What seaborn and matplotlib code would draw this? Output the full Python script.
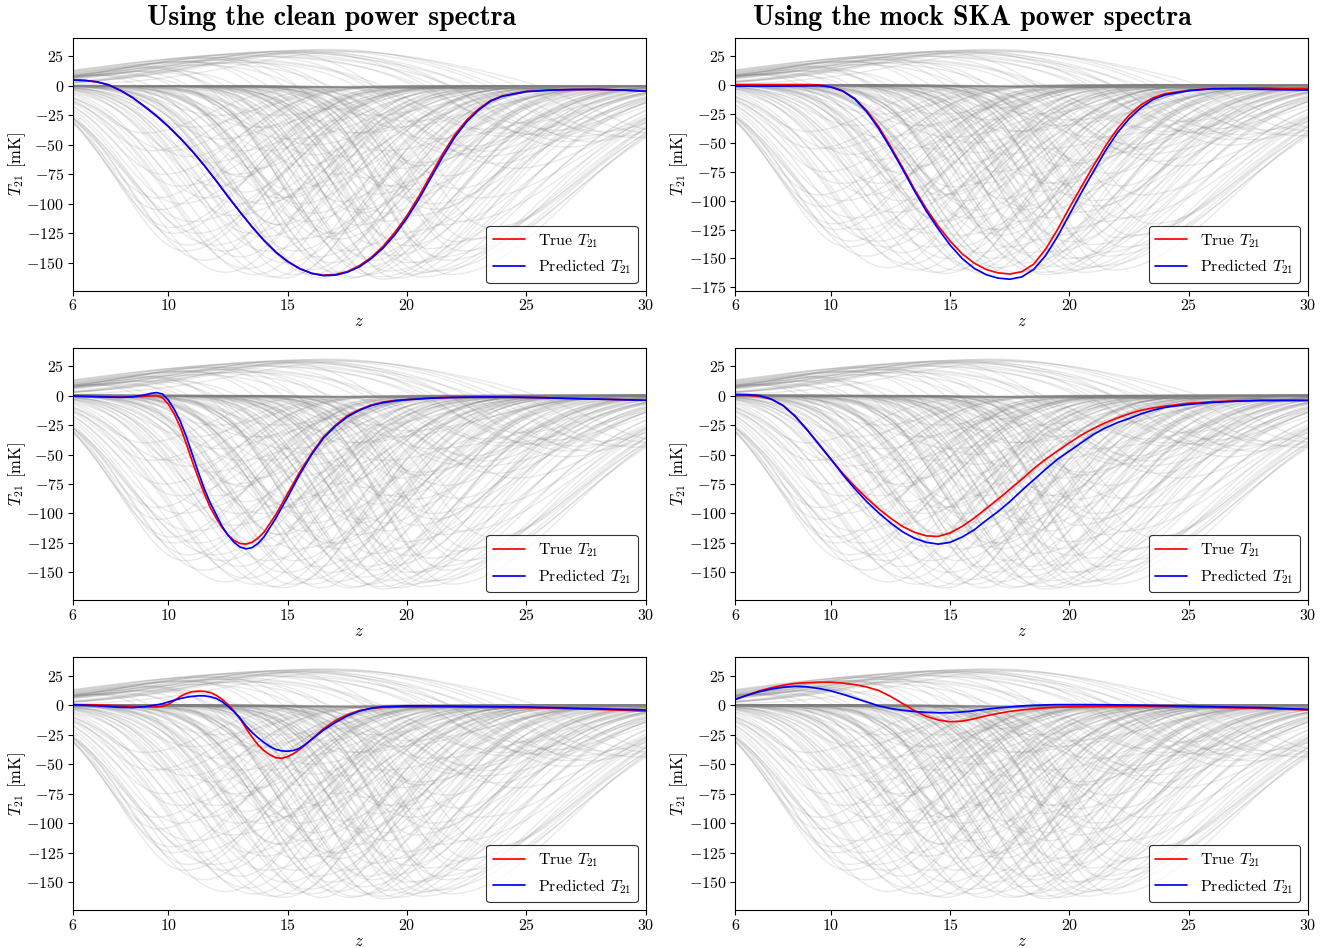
import numpy as np
import pandas as pd
import matplotlib
matplotlib.use("Agg")
import matplotlib.pyplot as plt
from matplotlib.ticker import MultipleLocator
import seaborn as sns

# ---------------- data ----------------
# background training-set signals: absorption troughs (centre z, depth mK, low-z width, high-z width)
abs_zc = [9.3, 9.6, 10.2, 10.4, 10.8, 10.8, 11.0, 11.5, 11.6, 11.9, 12.1, 12.4, 12.6, 12.8,
          13.0, 13.2, 13.4, 13.6, 13.9, 14.1, 14.2, 14.4, 14.7, 14.9, 15.1, 15.2, 15.4, 15.6,
          15.9, 16.1, 16.2, 16.4, 16.6, 16.7, 16.9,
          17.0, 17.2, 17.4, 17.6, 17.9, 18.1, 18.2, 18.4, 18.6, 18.9, 19.1, 19.2, 19.4, 19.6,
          19.9, 20.1, 20.2, 20.4, 20.6, 20.9, 21.1, 21.4, 21.6, 22.0, 22.3,
          13.5, 15.0, 17.5, 19.0, 21.0, 23.0, 24.0, 12.0, 18.5, 20.0,
          9.8, 10.5, 11.2, 11.8, 12.3, 12.9, 13.3, 13.7, 14.0, 14.6, 14.8, 15.3, 15.7, 16.0,
          16.3, 16.8, 17.1, 17.3, 17.8, 18.0, 18.3, 18.7, 19.0, 19.5, 19.7, 20.0, 20.3, 20.7,
          21.0, 21.3, 21.8, 22.2, 22.6, 23.0, 23.5,
          14.5, 16.0, 18.0, 19.5, 22.0, 11.0, 13.0, 17.0, 20.5, 24.5, 9.0, 10.0, 12.0, 15.5, 19.0,
          9.5, 10.1, 10.7]
abs_depth = [55, 105, 125, 85, 135, 60, 115, 148, 95, 135, 45, 158, 110, 75,
             145, 90, 125, 160, 100, 140, 55, 162, 118, 150, 88, 160, 130, 68,
             156, 108, 145, 163, 30, 125, 20,
             158, 98, 140, 163, 118, 154, 78, 160, 134, 162, 108, 157, 144, 163,
             124, 160, 88, 150, 162, 138, 157, 118, 148, 132, 140,
             35, 45, 40, 55, 45, 60, 40, 25, 25, 30,
             75, 100, 125, 65, 140, 100, 155, 70, 128, 95, 163, 140, 115, 160,
             85, 150, 130, 60, 162, 105, 145, 92, 164, 130, 70, 150, 110, 158,
             100, 145, 160, 115, 130, 95, 120,
             25, 50, 40, 35, 55, 35, 55, 75, 65, 70, 40, 55, 85, 100, 85,
             95, 120, 140]
abs_wl = [2.0, 2.3, 2.4, 2.2, 2.6, 2.0, 3.0, 3.0, 2.4, 3.3, 2.0, 3.4, 2.6, 2.2,
          3.0, 2.0, 2.6, 3.4, 2.4, 3.0, 1.8, 3.6, 2.5, 3.2, 2.2, 3.0, 2.8, 2.0,
          3.3, 2.6, 2.4, 3.1, 1.6, 2.2, 1.5,
          3.0, 2.0, 2.6, 3.3, 2.3, 2.8, 1.8, 3.0, 2.4, 3.1, 2.2, 2.6, 2.4, 2.9,
          2.0, 2.8, 1.8, 2.4, 2.9, 2.2, 2.6, 2.0, 2.4, 2.2, 2.6,
          2.0, 2.5, 2.2, 2.5, 2.5, 2.5, 2.5, 2.0, 2.0, 2.0,
          2.2, 2.5, 2.8, 2.1, 3.1, 2.5, 3.3, 2.0, 2.7, 2.3, 3.4, 2.9, 2.4, 3.0,
          2.0, 2.7, 2.4, 1.8, 3.2, 2.1, 2.5, 2.0, 3.0, 2.3, 1.8, 2.6, 2.0, 2.8,
          1.9, 2.4, 2.7, 2.1, 2.4, 2.2, 2.6,
          2.0, 2.2, 2.2, 2.0, 2.4, 2.0, 2.0, 2.0, 2.2, 2.6, 1.8, 2.0, 2.3, 2.2, 2.0,
          2.3, 2.5, 2.7]
abs_wr = [2.8, 3.0, 3.2, 3.6, 3.4, 2.6, 4.0, 3.2, 2.8, 3.8, 3.0, 3.4, 4.2, 3.0,
          3.0, 2.6, 3.5, 3.4, 3.2, 4.0, 2.4, 3.3, 2.9, 3.7, 3.6, 3.0, 4.3, 2.8,
          3.5, 3.1, 3.9, 3.1, 2.2, 3.5, 2.0,
          3.7, 3.0, 4.1, 3.8, 3.3, 4.4, 2.9, 3.6, 4.0, 4.3, 3.1, 4.7, 3.9, 4.1,
          4.5, 4.9, 3.5, 4.3, 5.2, 4.7, 5.6, 4.2, 5.2, 5.2, 5.0,
          3.0, 3.5, 3.5, 4.0, 4.5, 4.5, 4.0, 2.5, 3.0, 3.5,
          3.0, 3.3, 3.6, 2.7, 3.3, 3.8, 3.2, 2.6, 3.6, 3.2, 3.5, 3.4, 3.8, 3.3,
          2.9, 3.6, 3.4, 2.6, 4.0, 3.2, 3.9, 3.0, 4.4, 4.0, 3.2, 4.6, 4.0, 5.0,
          4.2, 5.2, 5.0, 4.8, 4.6, 4.5, 4.2,
          3.0, 3.2, 3.5, 3.5, 4.0, 2.5, 3.0, 3.0, 3.8, 4.0, 2.6, 2.8, 3.0, 3.2, 3.5,
          3.0, 3.4, 3.6]

# background signals with an emission bump followed by absorption
em_ze = [13.0, 14.0, 15.0, 16.0, 16.8, 15.5, 14.5, 12.5, 13.5, 11.5, 11.0,
         10.0, 9.5, 8.0, 12.0, 13.0, 15.0, 17.5, 10.5, 12.0, 9.0, 14.0,
         13.5, 14.5, 15.5, 12.0, 11.0, 16.0, 13.0, 10.0, 9.0, 12.5, 17.0, 11.5, 8.5, 14.0]
em_amp = [26, 28, 29.5, 30.5, 31, 28, 25, 22, 20, 18, 20,
          15, 18, 12, 25, 27, 30, 29, 14, 16, 10, 22,
          27, 29, 30, 24, 20, 29, 23, 17, 14, 26, 30, 22, 11, 26]
em_w = [6.0, 6.0, 5.8, 5.5, 5.0, 4.8, 5.2, 5.5, 5.0, 4.5, 3.5,
        3.5, 3.0, 3.0, 4.0, 4.5, 4.2, 4.5, 4.0, 5.0, 4.0, 4.0,
        6.0, 5.5, 5.2, 5.5, 5.0, 4.6, 4.5, 4.0, 3.5, 4.2, 5.0, 4.5, 3.5, 5.0]
em_zc = [25.5, 26.5, 27.5, 28.5, 29.5, 26.0, 24.5, 23.0, 22.5, 20.5, 17.0,
         15.0, 16.0, 13.0, 19.0, 21.0, 23.0, 30.0, 18.5, 20.0, 14.0, 22.0,
         27.0, 28.0, 26.5, 24.0, 22.0, 25.0, 21.5, 18.0, 16.5, 20.0, 31.0, 19.5, 14.5, 23.5]
em_depth = [45, 55, 50, 45, 45, 40, 35, 40, 55, 70, 130,
            100, 60, 80, 120, 110, 60, 40, 150, 140, 40, 90,
            45, 40, 50, 45, 60, 45, 80, 110, 130, 100, 40, 90, 120, 70]
em_wabs = [3.0, 3.2, 3.0, 3.2, 3.5, 2.8, 3.0, 2.8, 2.8, 2.8, 2.8,
           2.5, 2.5, 2.2, 3.0, 3.2, 3.0, 3.0, 3.0, 3.4, 2.0, 3.0,
           3.0, 3.0, 3.0, 3.0, 2.8, 3.0, 3.0, 2.8, 2.6, 3.0, 3.0, 3.0, 2.4, 3.2]

# near-zero background signals that stop before z = 30
flat_t0 = [0.5, 0.0, 0.3, -0.2, 0.2, 0.0, -0.3, 0.4, 0.1, -0.1, 0.2, 0.0]
flat_zend = [19.5, 21.0, 22.5, 23.5, 24.0, 24.5, 25.5, 26.5, 27.0, 28.5, 29.0, 30.0]
flat_tend = [-1.0, -1.2, -1.5, -1.5, -1.8, -2.0, -2.0, -2.2, -2.5, -2.8, -3.0, -3.2]

# foreground: true and predicted T21 for each panel
z_a = [6, 6.5, 7, 7.5, 8, 8.5, 9, 9.5, 10, 10.5, 11, 11.5, 12, 12.5, 13, 13.5, 14, 14.5,
       15, 15.5, 16, 16.5, 17, 17.5, 18, 18.5, 19, 19.5, 20, 20.5, 21, 21.5, 22, 22.5,
       23, 23.5, 24, 25, 26, 27, 28, 29, 30]
true_1 = [5, 4.6, 3.4, 0.8, -4, -10, -17.5, -25.5, -34.5, -44.5, -55.5, -67.5, -80.5, -94, -107, -119.5,
          -131, -141, -149, -155, -159, -160.5, -160, -157.5, -152.5, -145.5, -136, -124, -110, -93.5,
          -75.5, -57.5, -41.5, -29, -19.5, -12.5, -8.5, -4.8, -3.6, -3.1, -3, -3.5, -4.5]
pred_1 = [5, 4.6, 3.4, 0.8, -4, -10, -17.5, -25.5, -34.5, -44.5, -55.5, -67.5, -80.5, -94, -107, -119.5,
          -131, -141, -149, -155, -159, -161, -160.5, -158, -153.5, -146.5, -137.5, -126, -112, -96,
          -78, -60, -43.5, -30.5, -20.5, -13, -8.8, -4.8, -3.6, -3.1, -3, -3.5, -4.5]
true_2 = [0.5, 0.5, 0.5, 0.5, 0.5, 0.5, 0.5, 0.2, -1.5, -5, -11.5, -22, -36, -53, -71, -90, -107, -122,
          -135, -146, -154, -159.5, -162.5, -163.5, -161.5, -155, -142, -125, -106, -88, -70, -53,
          -38, -26, -17, -11, -7.5, -4.5, -3, -2.5, -2.5, -2.8, -3]
pred_2 = [-0.8, -0.8, -0.8, -0.8, -0.8, -0.7, -0.6, -0.4, -1.6, -5.2, -12, -23, -37.5, -54.5, -72.5,
          -91.5, -109, -124.5, -138.5, -150, -158.5, -164, -167, -168, -166, -159.5, -147.5, -131,
          -112, -93, -75, -57, -41.5, -29, -19.5, -12.5, -8.5, -4.8, -3.2, -3.2, -3.6, -4, -4.3]

z_b = [6, 7, 8, 8.5, 9, 9.25, 9.5, 9.75, 10, 10.25, 10.5, 10.75, 11, 11.25, 11.5, 11.75, 12,
       12.25, 12.5, 12.75, 13, 13.25, 13.5, 13.75, 14, 14.5, 15, 15.5, 16, 16.5, 17, 17.5, 18,
       18.5, 19, 19.5, 20, 21, 22, 23, 24, 25, 26, 27, 28, 29, 30]
true_3 = [-0.5, -0.8, -1.2, -1.2, -0.6, -0.1, 0.1, -1.8, -7.5, -16, -27, -41, -56, -70, -83, -95, -104,
          -112, -118.5, -123, -125.5, -126, -124.5, -121, -116, -101, -83, -65, -49, -35, -25, -17, -12,
          -8, -5.5, -4, -3.5, -2, -1.5, -1.3, -1.3, -1.5, -2, -2.5, -3, -3.5, -4]
pred_3 = [-0.5, -1, -1.5, -1, 0.5, 1.8, 2.5, 1.3, -4, -12, -22, -35, -50, -65, -79, -91, -101,
          -111, -118.5, -124.5, -128.5, -130, -129, -125.5, -120, -104, -86, -67, -50, -36, -26, -18,
          -12.5, -8.5, -6, -4.5, -3.5, -2.2, -1.5, -1.2, -1.2, -1.5, -2, -2.5, -3, -3.5, -4]

true_4 = [0.3, 0.2, -0.5, -3, -8.5, -17.5, -29, -41.5, -54, -66, -77, -87, -96, -104, -111, -116,
          -119, -119.5, -116.5, -111, -104, -96, -88, -79.5, -71, -62, -54, -47, -40, -33.5, -28,
          -23, -19, -15.5, -12.5, -10.5, -9, -6.5, -5.2, -4.5, -4, -4, -4]
pred_4 = [1, 0.8, 0, -3, -8.5, -17.5, -29, -41.5, -54, -67, -79, -90, -99.5, -108, -115.5, -121,
          -124.5, -126, -124.5, -120, -114, -106, -98.5, -90, -80.5, -71.5, -62.5, -54, -47, -40,
          -33, -27.5, -23, -19.5, -15.5, -12.5, -10, -7.5, -5.8, -4.8, -4.2, -4.2, -4.2]

z_c = [6, 7, 8, 8.5, 9, 9.5, 9.75, 10, 10.25, 10.5, 10.75, 11, 11.25, 11.5, 11.75, 12, 12.25,
       12.5, 12.75, 13, 13.25, 13.5, 13.75, 14, 14.25, 14.5, 14.75, 15, 15.25, 15.5, 15.75, 16,
       16.5, 17, 17.5, 18, 18.5, 19, 20, 21, 22, 23, 24, 25, 26, 27, 28, 29, 30]
true_5 = [0.5, 0.3, -0.5, -1, -1.3, -1.5, -1.0, 0.8, 4, 7.5, 10, 11.5, 12, 11.8, 10.8, 8.5, 5,
          0.5, -5, -11.5, -19.5, -27, -33.5, -38.5, -42, -44.5, -45, -43.5, -41, -37.5, -33.5, -29,
          -20, -13, -8, -4.5, -2.7, -1.8, -1.5, -1.4, -1.5, -1.6, -1.8, -2, -2.5, -3, -3.5, -4.2, -5]
pred_5 = [0.5, -0.5, -1.8, -2, -1.2, 0.3, 1.3, 2.8, 4.3, 5.7, 6.8, 7.5, 8, 8, 7.2, 5.8, 3,
          -1, -5.5, -11, -17.5, -23, -27.5, -31.5, -35, -37.5, -38.7, -39, -38.3, -36.5, -33, -29,
          -21, -14.5, -9, -5, -2.5, -1.2, -0.5, -0.6, -0.8, -1, -1.2, -1.5, -2, -2.5, -3, -3.5, -4]

z_d = [6, 6.5, 7, 7.5, 8, 8.5, 9, 9.5, 10, 10.5, 11, 11.5, 12, 12.5, 13, 13.5, 14, 14.5,
       15, 15.5, 16, 16.5, 17, 17.5, 18, 18.5, 19, 19.5, 20, 21, 22, 23, 24, 25, 26, 27, 28, 29, 30]
true_6 = [5, 8.7, 12.2, 14.8, 17, 18.5, 19.2, 19.5, 19.5, 18.8, 17.5, 15.5, 12.5, 7.5, 1.5, -4.5, -9.5,
          -12.5, -14, -13.5, -11.5, -9, -7, -5.2, -4, -3, -2.2, -1.7, -1.4, -1, -0.8, -0.8, -1, -1.4,
          -1.8, -2.2, -2.7, -3.3, -4]
pred_6 = [5, 8.5, 11.5, 13.8, 15.3, 16, 15.6, 14.2, 12.2, 9.3, 6, 2.8, -0.5, -2.8, -4.3, -5.3, -6,
          -6.4, -6.3, -5.7, -4.7, -3.4, -2.3, -1.4, -0.6, 0, 0.3, 0.5, 0.5, 0.5, 0.3, 0, -0.4, -0.8,
          -1.2, -1.6, -2, -2.7, -3.5]

panels = [
    (z_a, true_1, pred_1), (z_a, true_2, pred_2),
    (z_b, true_3, pred_3), (z_a, true_4, pred_4),
    (z_c, true_5, pred_5), (z_d, true_6, pred_6),
]
col_titles = ["Using the clean power spectra", "Using the mock SKA power spectra"]
x_ticks = [6, 10, 15, 20, 25, 30]

# ---------------- build background table ----------------
zz = np.linspace(6, 30, 241)


def gauss(z, c, w):
    return np.exp(-0.5 * ((z - c) / w) ** 2)


rows = []
cid = 0
for c, d, wl, wr in zip(abs_zc, abs_depth, abs_wl, abs_wr):
    t = -d * np.where(zz < c, gauss(zz, c, wl), gauss(zz, c, wr))
    rows.append(pd.DataFrame({"z": zz, "T": t, "curve": cid}))
    cid += 1
for ze, ea, ew, zc, d, wa in zip(em_ze, em_amp, em_w, em_zc, em_depth, em_wabs):
    t = ea * gauss(zz, ze, ew) - d * gauss(zz, zc, wa)
    rows.append(pd.DataFrame({"z": zz, "T": t, "curve": cid}))
    cid += 1
for t0, ze, te in zip(flat_t0, flat_zend, flat_tend):
    rows.append(pd.DataFrame({"z": [6.0, ze], "T": [t0, te], "curve": cid}))
    cid += 1
bg = pd.concat(rows, ignore_index=True)

# ---------------- style ----------------
sns.set_theme(style="ticks")
plt.rcParams.update({
    "font.family": ["cmr10", "DejaVu Serif"],
    "mathtext.fontset": "cm",
    "axes.formatter.use_mathtext": True,
    "axes.unicode_minus": True,
    "axes.edgecolor": "black",
    "axes.linewidth": 0.8,
    "xtick.color": "black",
    "ytick.color": "black",
    "xtick.major.size": 3.5,
    "ytick.major.size": 3.5,
    "xtick.major.width": 0.8,
    "ytick.major.width": 0.8,
    "xtick.major.pad": 2,
    "ytick.major.pad": 3,
    "xtick.labelsize": 11.5,
    "ytick.labelsize": 11.5,
    "axes.labelsize": 12,
    "text.color": "black",
    "axes.labelcolor": "black",
})

fig, axes = plt.subplots(3, 2, figsize=(13.38, 9.48), dpi=100)
fig.subplots_adjust(left=0.0546, right=0.9776, top=0.96, bottom=0.04,
                    wspace=0.157, hspace=0.225)

for i, (ax, (zp, tr, pr)) in enumerate(zip(axes.flat, panels)):
    sns.lineplot(data=bg, x="z", y="T", units="curve", estimator=None,
                 color="grey", alpha=0.17, linewidth=1.0, ax=ax, legend=False)
    fg_true = pd.DataFrame({"z": zp, "T": tr})
    fg_pred = pd.DataFrame({"z": zp, "T": pr})
    sns.lineplot(data=fg_true, x="z", y="T", color="red", linewidth=1.25,
                 label=r"True $T_{21}$", ax=ax)
    sns.lineplot(data=fg_pred, x="z", y="T", color="blue", linewidth=1.25,
                 label=r"Predicted $T_{21}$", ax=ax)
    ax.set_xlim(6, 30)
    ax.set_xticks(x_ticks)
    ax.yaxis.set_major_locator(MultipleLocator(25))
    ax.set_xlabel(r"$z$", labelpad=0.5)
    ax.set_ylabel(r"$T_{21}$ [mK]", labelpad=-1)
    for sp in ax.spines.values():
        sp.set_visible(True)
        sp.set_color("black")
        sp.set_linewidth(0.8)
    leg = ax.legend(loc="lower right", fontsize=11.5, frameon=True, fancybox=True,
                    edgecolor="black", framealpha=0.8)
    leg.get_frame().set_linewidth(0.8)

axes[0, 0].set_title(col_titles[0], fontfamily="cmb10", fontsize=20, pad=9, x=0.451)
axes[0, 1].set_title(col_titles[1], fontfamily="cmb10", fontsize=20, pad=9, x=0.414)

fig.savefig("out.png", dpi=100)
